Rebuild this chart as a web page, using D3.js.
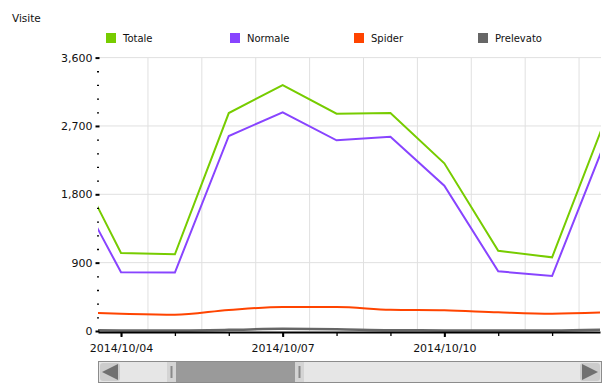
<!DOCTYPE html>
<html>
<head>
<meta charset="UTF-8">
<title>Visite</title>
<script src="https://d3js.org/d3.v7.min.js"></script>
<style>
  body { margin: 0; background: #fff; }
  svg { display: block; font-family: "DejaVu Sans", Verdana, sans-serif; }
  .grid line { stroke: #e0e0e0; stroke-width: 1; }
</style>
</head>
<body>
<svg width="613" height="388"></svg>
<script>
// data
var days = ["2014-10-03", "2014-10-04", "2014-10-05", "2014-10-06", "2014-10-07", "2014-10-08",
            "2014-10-09", "2014-10-10", "2014-10-11", "2014-10-12", "2014-10-13"];
var totale    = [2425, 1027, 1010, 2870, 3239, 2861, 2870, 2208, 1057, 970, 2807];
var normale   = [2100,  773,  770, 2568, 2880, 2511, 2559, 1913,  786, 724, 2516];
var spider    = [ 250,  228,  215,  277,  316,  316,  280,  272,  246, 228,  245];
var prelevato = [  10,    8,    8,   15,   28,   22,   10,    8,    8,   8,   20];
var seriesNames = ["Totale", "Normale", "Spider", "Prelevato"];
var seriesColors = ["#77cc00", "#8844ff", "#ff4400", "#666666"];
var yMajorTicks = [0, 900, 1800, 2700, 3600];
var xLabelDays = ["2014-10-04", "2014-10-07", "2014-10-10"];
var viewStart = new Date(2014, 9, 3, 13, 45);
var viewEnd = new Date(2014, 9, 12, 21, 20);

var parse = d3.timeParse("%Y-%m-%d");
var dates = days.map(parse);
var allSeries = [totale, normale, spider, prelevato];

var svg = d3.select("svg");
var pLeft = 98, pRight = 600, pTop = 57.6, pBottom = 331;

var x = d3.scaleTime().domain([viewStart, viewEnd]).range([pLeft, pRight]);
var y = d3.scaleLinear().domain([0, 3600]).range([pBottom, pTop]);

// title
svg.append("text").attr("x", 12).attr("y", 22)
    .style("font-size", "10.5px").attr("fill", "#111").text("Visite");

// legend
var legend = svg.append("g").selectAll("g").data(seriesNames).enter().append("g")
    .attr("transform", function(d, i) { return "translate(" + (106 + i * 124) + ",33)"; });
legend.append("rect").attr("width", 10).attr("height", 10)
    .attr("fill", function(d, i) { return seriesColors[i]; });
legend.append("text").attr("x", 17).attr("y", 9).style("font-size", "10px")
    .attr("fill", "#111").text(function(d) { return d; });

// grid
var noons = d3.timeHour.range(viewStart, viewEnd).filter(function(d) { return d.getHours() == 12; });
svg.append("g").attr("class", "grid").selectAll("line").data(noons).enter().append("line")
    .attr("x1", function(d) { return x(d); }).attr("x2", function(d) { return x(d); })
    .attr("y1", pTop).attr("y2", pBottom);
svg.append("g").attr("class", "grid").selectAll("line").data(yMajorTicks.slice(1)).enter().append("line")
    .attr("x1", pLeft).attr("x2", pRight + 1)
    .attr("y1", function(d) { return y(d); }).attr("y2", function(d) { return y(d); });

// lines
svg.append("clipPath").attr("id", "clip").append("rect")
    .attr("x", pLeft).attr("y", pTop - 5).attr("width", pRight - pLeft).attr("height", pBottom - pTop + 6);

var straight = d3.line().x(function(d, i) { return x(dates[i]); }).y(function(d) { return y(d); });
var smooth = d3.line().curve(d3.curveMonotoneX)
    .x(function(d, i) { return x(dates[i]); }).y(function(d) { return y(d); });

var plot = svg.append("g").attr("clip-path", "url(#clip)");
[3, 2, 1, 0].forEach(function(k) {
  plot.append("path").datum(allSeries[k])
      .attr("d", k >= 2 ? smooth : straight)
      .attr("fill", "none")
      .attr("stroke", seriesColors[k])
      .attr("stroke-width", k == 3 ? 2.5 : 2)
      .attr("stroke-linejoin", "miter");
});

// y axis
var yMinor = d3.range(0, 3601, 180).filter(function(v) { return yMajorTicks.indexOf(v) < 0; });
var gyMinor = svg.append("g").attr("transform", "translate(" + (pLeft + 1) + ",0)")
    .call(d3.axisLeft(y).tickValues(yMinor).tickSize(2).tickFormat(""));
gyMinor.select(".domain").remove();
gyMinor.selectAll(".tick line").attr("stroke", "#000").attr("stroke-width", 1.3);

var gy = svg.append("g").attr("transform", "translate(" + (pLeft + 1.5) + ",0)")
    .call(d3.axisLeft(y).tickValues(yMajorTicks).tickSize(4).tickPadding(3).tickFormat(d3.format(",")));
gy.select(".domain").remove();
gy.selectAll(".tick line").attr("stroke", "#000").attr("stroke-width", 2);
gy.selectAll(".tick text").style("font-size", "11px").attr("fill", "#111")
    .style("font-family", "'DejaVu Sans', Verdana, sans-serif");

// x axis
var gxMinor = svg.append("g").attr("transform", "translate(0," + (pBottom + 1) + ")")
    .call(d3.axisBottom(x).tickValues(d3.timeDay.range(viewStart, viewEnd)).tickSize(4).tickFormat(""));
gxMinor.select(".domain").remove();
gxMinor.selectAll(".tick line").attr("stroke", "#000").attr("stroke-width", 1.3);

var gx = svg.append("g").attr("transform", "translate(0," + (pBottom + 1) + ")")
    .call(d3.axisBottom(x).tickValues(xLabelDays.map(parse)).tickSize(5).tickSizeOuter(0)
      .tickPadding(7).tickFormat(d3.timeFormat("%Y/%m/%d")));
gx.select(".domain").attr("stroke", "#000").attr("stroke-width", 2);
gx.selectAll(".tick line").attr("stroke", "#000").attr("stroke-width", 2);
gx.selectAll(".tick text").style("font-size", "11px").attr("fill", "#111")
    .style("font-family", "'DejaVu Sans', Verdana, sans-serif");

// scrollbar
var sb = svg.append("g");
sb.append("rect").attr("x", 98.5).attr("y", 361.5).attr("width", 503).attr("height", 21)
    .attr("fill", "#e6e6e6").attr("stroke", "#8c8c8c");
sb.append("rect").attr("x", 100).attr("y", 363).attr("width", 20).attr("height", 18).attr("rx", 3)
    .attr("fill", "#cccccc");
sb.append("path").attr("d", "M102,372 L118,364 L118,380 Z").attr("fill", "#707070");
sb.append("rect").attr("x", 580).attr("y", 363).attr("width", 20).attr("height", 18).attr("rx", 3)
    .attr("fill", "#cccccc");
sb.append("path").attr("d", "M598,372 L582,364 L582,380 Z").attr("fill", "#707070");
sb.append("rect").attr("x", 176).attr("y", 362).attr("width", 119).attr("height", 20).attr("fill", "#9a9a9a");
[167, 295].forEach(function(hx) {
  sb.append("rect").attr("x", hx).attr("y", 362).attr("width", 9).attr("height", 20).attr("fill", "#d4d4d4");
  sb.append("rect").attr("x", hx + 3.5).attr("y", 366).attr("width", 2).attr("height", 12).attr("fill", "#8a8a8a");
});
</script>
</body>
</html>
